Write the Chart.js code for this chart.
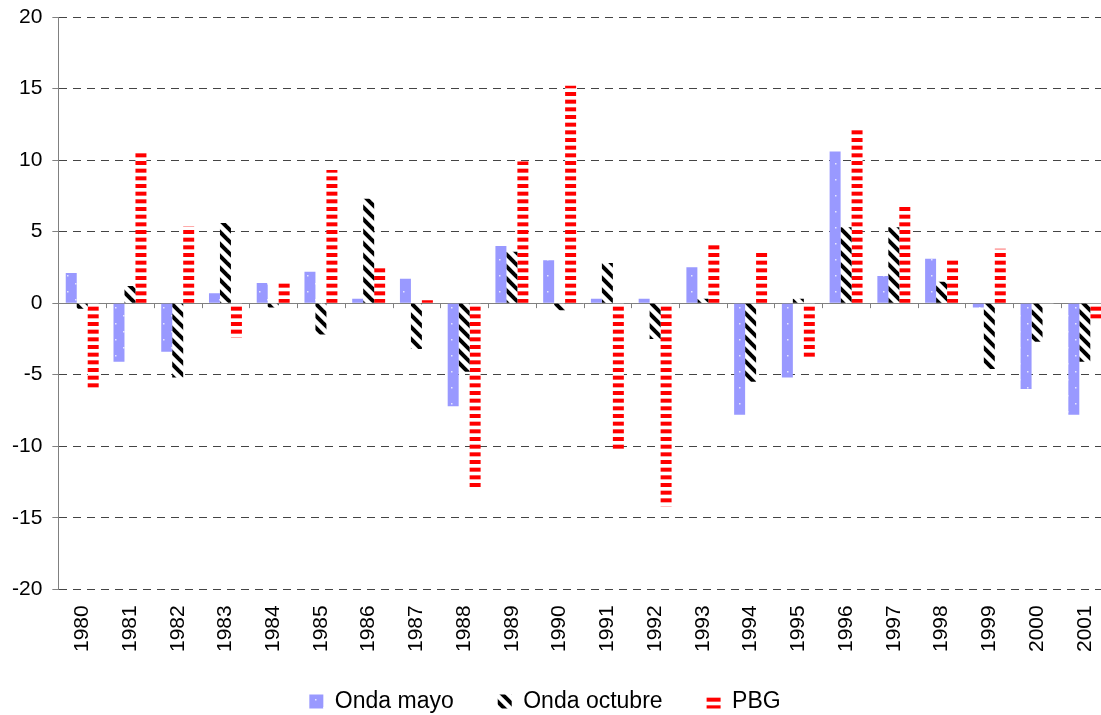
<!DOCTYPE html>
<html>
<head>
<meta charset="utf-8">
<script src="https://cdn.jsdelivr.net/npm/chart.js@4.4.0/dist/chart.umd.min.js"></script>
<style>
  html, body { margin: 0; padding: 0; background: #fff; overflow: hidden; }
  canvas { display: block; }
</style>
</head>
<body>
<canvas id="chart" width="1118" height="715"></canvas>
<script>
const years = ["1980", "1981", "1982", "1983", "1984", "1985", "1986", "1987", "1988", "1989", "1990",
  "1991", "1992", "1993", "1994", "1995", "1996", "1997", "1998", "1999", "2000", "2001"];
const ondaMayo = [2.1, -4.1, -3.4, 0.7, 1.4, 2.2, 0.3, 1.7, -7.2, 4.0, 3.0,
  0.3, 0.3, 2.5, -7.8, -5.2, 10.6, 1.9, 3.1, -0.3, -6.0, -7.8];
const ondaOctubre = [-0.4, 1.2, -5.2, 5.6, -0.3, -2.2, 7.3, -3.2, -4.8, 3.6, -0.5,
  2.8, -2.5, 0.3, -5.5, 0.3, 5.3, 5.3, 1.5, -4.6, -2.7, -4.1];
const pbg = [-6.1, 10.6, 5.4, -2.4, 1.5, 9.3, 2.6, 0.2, -12.9, 9.9, 15.2,
  -10.4, -14.2, 4.1, 3.7, -3.8, 12.2, 6.8, 3.1, 3.8, -0.2, -1.3];
const yTicks = [-20, -15, -10, -5, 0, 5, 10, 15, 20];
const seriesNames = ["Onda mayo", "Onda octubre", "PBG"];

// fill patterns like the excel ones
function dotPattern() {
  const c = document.createElement("canvas");
  c.width = 16; c.height = 16;
  const g = c.getContext("2d");
  g.fillStyle = "#9999ff";
  g.fillRect(0, 0, 16, 16);
  g.fillStyle = "rgba(255,255,255,0.75)";
  g.fillRect(3, 3, 1.5, 1.5);
  g.fillRect(11, 11, 1.5, 1.5);
  return g.createPattern(c, "repeat");
}

function diagPattern() {
  const c = document.createElement("canvas");
  c.width = 12; c.height = 12;
  const g = c.getContext("2d");
  g.fillStyle = "#ffffff";
  g.fillRect(0, 0, 12, 12);
  g.strokeStyle = "#000000";
  g.lineWidth = 4;
  for (const o of [-12, 0, 12]) {
    g.beginPath();
    g.moveTo(o - 2, -2);
    g.lineTo(o + 14, 14);
    g.stroke();
  }
  return g.createPattern(c, "repeat");
}

function stripePattern() {
  const c = document.createElement("canvas");
  c.width = 8; c.height = 23;
  const g = c.getContext("2d");
  g.fillStyle = "#ffffff";
  g.fillRect(0, 0, 8, 23);
  g.fillStyle = "#ff0000";
  for (let k = 0; k < 3; k++) g.fillRect(0, k * 23 / 3, 8, 4);
  return g.createPattern(c, "repeat");
}

const zeroTicks = {
  id: "zeroTicks",
  beforeDraw(chart) {
    // center the legend like the original and put it a bit lower
    const lg = chart.legend;
    lg.left = 0;
    lg.right = 1090;
    lg.top = 646;
  },
  afterDatasetsDraw(chart) {
    const xs = chart.scales.x, ys = chart.scales.y;
    const ctx = chart.ctx;
    const y0 = ys.getPixelForValue(0);
    const step = xs.width / years.length;
    ctx.save();
    ctx.strokeStyle = "#808080";
    ctx.lineWidth = 1;
    ctx.beginPath();
    for (let i = 0; i <= years.length; i++) {
      const x = Math.round(xs.left + i * step) + 0.5;
      ctx.moveTo(x, y0);
      ctx.lineTo(x, y0 + 5);
    }
    ctx.stroke();
    ctx.restore();
  }
};

const ctx = document.getElementById("chart").getContext("2d");
const chart = new Chart(ctx, {
  type: "bar",
  data: {
    labels: years,
    datasets: [
      { label: seriesNames[0], data: ondaMayo, backgroundColor: dotPattern(), borderWidth: 0 },
      { label: seriesNames[1], data: ondaOctubre, backgroundColor: diagPattern(), borderWidth: 0 },
      { label: seriesNames[2], data: pbg, backgroundColor: stripePattern(), borderWidth: 0 }
    ]
  },
  options: {
    responsive: false,
    animation: false,
    barPercentage: 1,
    categoryPercentage: 0.69,
    layout: { padding: { top: 17, left: 2, right: 0, bottom: -22 } },
    plugins: {
      tooltip: { enabled: false },
      legend: {
        position: "bottom",
        labels: {
          font: { family: "'Liberation Sans', Arial, sans-serif", size: 23 },
          color: "#000",
          boxWidth: 14,
          boxHeight: 14,
          padding: 44
        }
      }
    },
    scales: {
      x: {
        grid: { display: false },
        border: { display: false },
        ticks: {
          autoSkip: false,
          minRotation: 90,
          maxRotation: 90,
          padding: 8,
          color: "#000",
          font: { family: "'Liberation Sans', Arial, sans-serif", size: 21 }
        }
      },
      y: {
        min: -20,
        max: 20,
        afterBuildTicks: axis => { axis.ticks = yTicks.map(v => ({ value: v })); },
        grid: {
          color: c => (c.tick && c.tick.value === 0) ? "#808080" : "#444444",
          tickColor: "#808080",
          tickLength: 6
        },
        border: {
          display: true,
          color: "#808080",
          dash: c => (c.tick && c.tick.value === 0) ? [] : [8, 6]
        },
        ticks: {
          padding: 10,
          color: "#000",
          font: { family: "'Liberation Sans', Arial, sans-serif", size: 21, lineHeight: 0.6 }
        }
      }
    }
  },
  plugins: [zeroTicks]
});
</script>
</body>
</html>
